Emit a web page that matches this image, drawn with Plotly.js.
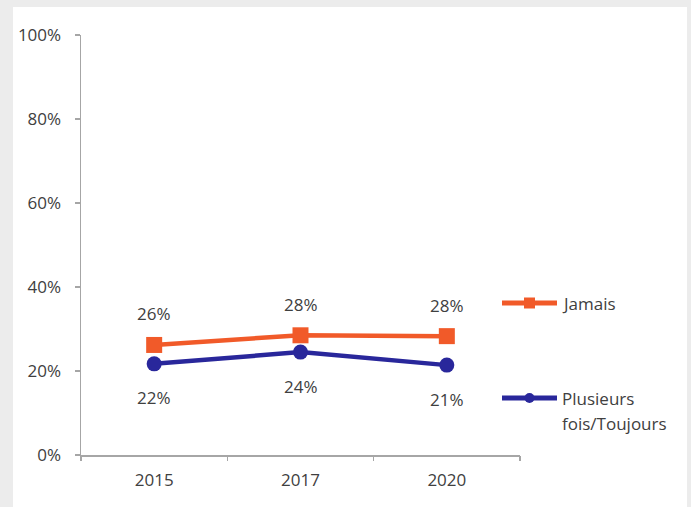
<!DOCTYPE html>
<html>
<head>
<meta charset="utf-8">
<script src="https://cdn.plot.ly/plotly-3.0.1.min.js"></script>
<style>
  html, body { margin:0; padding:0; background:#ececec; width:691px; height:507px; overflow:hidden; }
  #chart { position:absolute; left:13px; top:7px; width:674px; height:500px; background:#ffffff; }
</style>
</head>
<body>
<div id="chart"></div>
<script>
const years = ["2015", "2017", "2020"];
const jamais = [26.2, 28.5, 28.3];
const jamaisLabels = ["26%", "28%", "28%"];
const plusieurs = [21.7, 24.5, 21.4];
const plusieursLabels = ["22%", "24%", "21%"];
const seriesNames = ["Jamais", "Plusieurs", "fois/Toujours"];
const yTickVals = [0, 20, 40, 60, 80, 100];
const yTickText = ["0%", "20%", "40%", "60%", "80%", "100%"];

const orange = "#F15A29";
const blue = "#29279B";
const textColor = "#404040";
const axisColor = "#a6a6a6";
const fontFamily = "'Open Sans', Lato, sans-serif";
const font = {family: fontFamily, size: 17, color: textColor};

const traces = [
  {
    x: [0, 1, 2], y: jamais, type: "scatter", mode: "lines+markers", name: seriesNames[0],
    line: {color: orange, width: 4.5}, marker: {symbol: "square", size: 16, color: orange},
    cliponaxis: false, showlegend: false
  },
  {
    x: [0, 1, 2], y: plusieurs, type: "scatter", mode: "lines+markers", name: seriesNames[1] + " " + seriesNames[2],
    line: {color: blue, width: 4.5}, marker: {symbol: "circle", size: 15, color: blue},
    cliponaxis: false, showlegend: false
  }
];

const annotations = [];
years.forEach((yr, i) => {
  annotations.push({x: i, y: jamais[i], xref: "x", yref: "y", text: jamaisLabels[i], showarrow: false, yshift: 31, font: font});
  annotations.push({x: i, y: plusieurs[i], xref: "x", yref: "y", text: plusieursLabels[i], showarrow: false, yshift: -34, font: font});
});

// Legend (drawn in paper coordinates, to the right of the plot area)
const PW = 439, PH = 420;
const px = v => (v - 81) / PW;     // page x -> paper x
const py = v => (455 - v) / PH;    // page y -> paper y
const shapes = [];
function legendItem(color, symbol, yPage) {
  shapes.push({type: "line", xref: "paper", yref: "paper", x0: px(502), x1: px(557), y0: py(yPage), y1: py(yPage),
    line: {color: color, width: 5}});
  const half = symbol === "square" ? 5.5 : 5;
  shapes.push({type: symbol === "square" ? "rect" : "circle", xref: "paper", yref: "paper",
    x0: px(529.5 - half), x1: px(529.5 + half), y0: py(yPage + half), y1: py(yPage - half),
    fillcolor: color, line: {width: 0}});
}
legendItem(orange, "square", 303);
legendItem(blue, "circle", 398);
annotations.push({xref: "paper", yref: "paper", x: px(560), y: py(303), xanchor: "left", yanchor: "middle", text: seriesNames[0], showarrow: false, font: font});
annotations.push({xref: "paper", yref: "paper", x: px(560), y: py(398), xanchor: "left", yanchor: "middle", text: seriesNames[1], showarrow: false, font: font});
annotations.push({xref: "paper", yref: "paper", x: px(560), y: py(423), xanchor: "left", yanchor: "middle", text: seriesNames[2], showarrow: false, font: font});

const layout = {
  width: 674, height: 500,
  margin: {l: 68, r: 167, t: 28, b: 52},
  paper_bgcolor: "#ffffff", plot_bgcolor: "#ffffff",
  font: font,
  showlegend: false,
  xaxis: {
    type: "linear", range: [-0.5, 2.5], showgrid: false, zeroline: false,
    tickvals: [0, 1, 2], ticktext: years, ticks: "",
    showline: true, linecolor: axisColor, linewidth: 1.5,
    ticklabelstandoff: 9, tickfont: font, fixedrange: true
  },
  xaxis2: {
    overlaying: "x", matches: "x", range: [-0.5, 2.5], tickvals: [-0.5, 0.5, 1.5, 2.5], showticklabels: false,
    ticks: "outside", ticklen: 5, tickcolor: axisColor, tickwidth: 1.5, showgrid: false, zeroline: false, showline: false
  },
  yaxis: {
    range: [0, 100], tickvals: yTickVals, ticktext: yTickText, showgrid: false, zeroline: false,
    showline: true, linecolor: axisColor, linewidth: 1.5,
    ticks: "outside", ticklen: 5, tickcolor: axisColor, tickwidth: 1.5,
    ticklabelstandoff: 10, tickfont: font, fixedrange: true
  },
  annotations: annotations,
  shapes: shapes
};

// anchor trace for the boundary tick axis
traces.push({x: [0], y: [0], xaxis: "x2", yaxis: "y", mode: "markers", marker: {opacity: 0}, showlegend: false, hoverinfo: "skip"});

Plotly.newPlot("chart", traces, layout, {displayModeBar: false, staticPlot: true});
</script>
</body>
</html>
